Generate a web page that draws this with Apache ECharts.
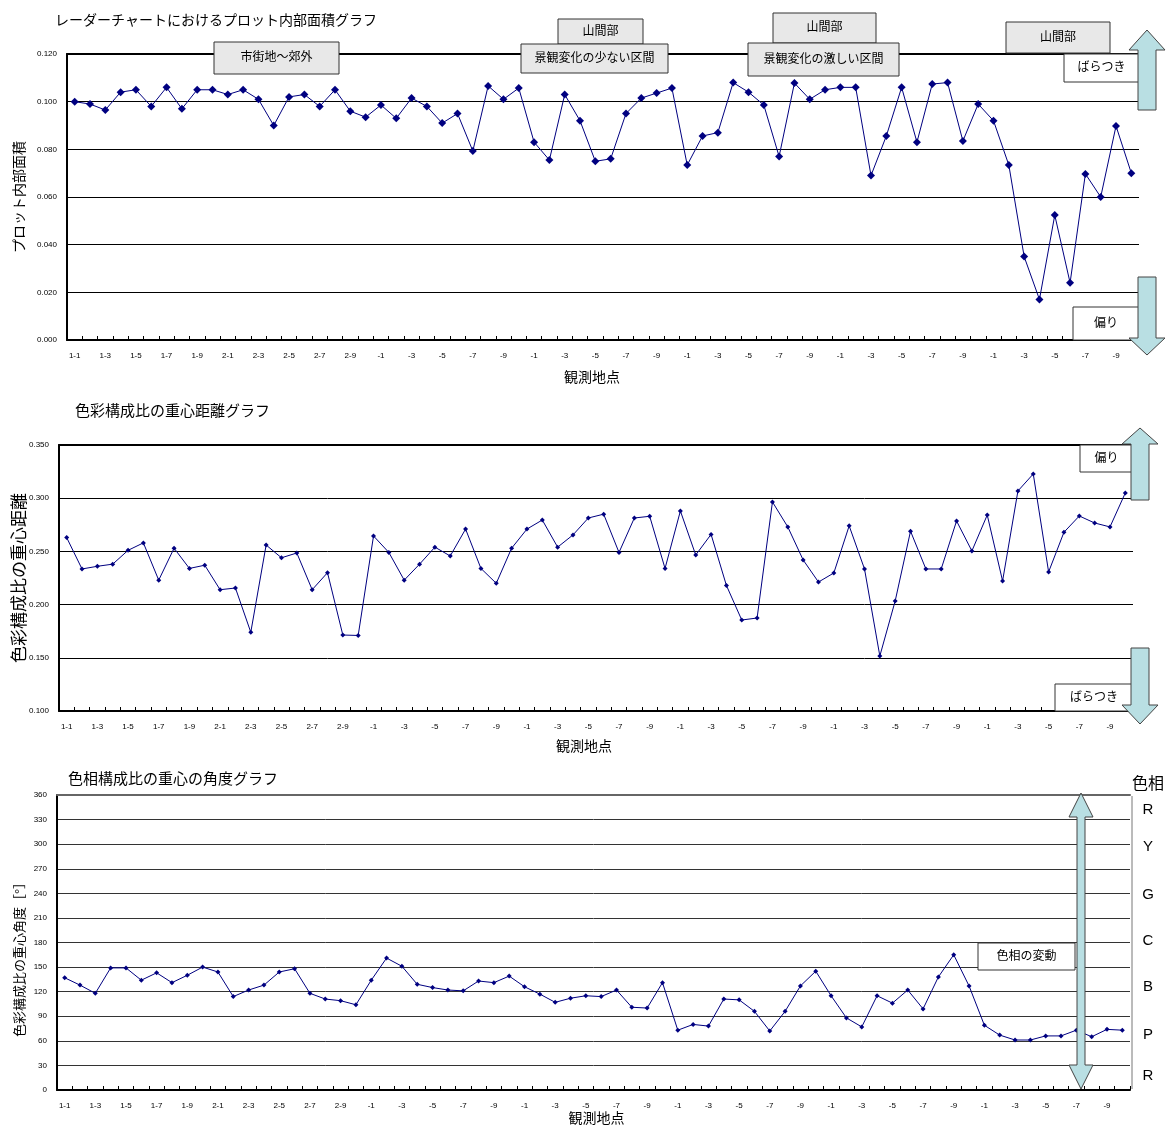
<!DOCTYPE html>
<html>
<head>
<meta charset="utf-8">
<script src="https://cdn.jsdelivr.net/npm/echarts@6/dist/echarts.min.js"></script>
<style>
  html, body { margin: 0; padding: 0; background: #fff; }
  #chart { width: 1167px; height: 1126px; }
</style>
</head>
<body>
<div id="chart"></div>
<script>
// observation points (3-x .. 7-x are shown with the first digit cut off, like the original)
const categories = [
    '1-1','1-2','1-3','1-4','1-5','1-6','1-7','1-8','1-9','1-10',
    '2-1','2-2','2-3','2-4','2-5','2-6','2-7','2-8','2-9','2-10',
    '3-1','3-2','3-3','3-4','3-5','3-6','3-7','3-8','3-9','3-10',
    '4-1','4-2','4-3','4-4','4-5','4-6','4-7','4-8','4-9','4-10',
    '5-1','5-2','5-3','5-4','5-5','5-6','5-7','5-8','5-9','5-10',
    '6-1','6-2','6-3','6-4','6-5','6-6','6-7','6-8','6-9','6-10',
    '7-1','7-2','7-3','7-4','7-5','7-6','7-7','7-8','7-9','7-10'
];

// plot area inside radar chart
const areaValues = [
    0.100, 0.099, 0.0965, 0.104, 0.105, 0.098, 0.106, 0.097, 0.105, 0.105,
    0.103, 0.105, 0.101, 0.090, 0.102, 0.103, 0.098, 0.105, 0.096, 0.0935,
    0.0986, 0.093, 0.1015, 0.098, 0.091, 0.095, 0.0793, 0.1066, 0.101, 0.1057,
    0.083, 0.0755, 0.103, 0.092, 0.075, 0.076, 0.095, 0.1015, 0.1036, 0.1057,
    0.0734, 0.0856, 0.087, 0.108, 0.104, 0.0986, 0.077, 0.1078, 0.101, 0.105,
    0.106, 0.106, 0.069, 0.0856, 0.106, 0.083, 0.1074, 0.108, 0.0835, 0.099,
    0.092, 0.0734, 0.035, 0.017, 0.0524, 0.024, 0.0697, 0.060, 0.0898, 0.070
];

// distance of colour ratio centroid
const distValues = [
    0.263, 0.2335, 0.236, 0.238, 0.251, 0.258, 0.223, 0.253, 0.234, 0.237,
    0.214, 0.2156, 0.174, 0.256, 0.244, 0.2485, 0.214, 0.230, 0.1714, 0.171,
    0.2645, 0.249, 0.223, 0.238, 0.254, 0.2457, 0.271, 0.234, 0.220, 0.253,
    0.271, 0.2795, 0.254, 0.2655, 0.2814, 0.285, 0.249, 0.2814, 0.283, 0.234,
    0.288, 0.2466, 0.266, 0.218, 0.1855, 0.1874, 0.2965, 0.273, 0.242, 0.2212,
    0.2297, 0.274, 0.2335, 0.1517, 0.2034, 0.269, 0.2335, 0.2335, 0.2786, 0.2504,
    0.2842, 0.2222, 0.3068, 0.3228, 0.2307, 0.268, 0.2833, 0.2767, 0.273, 0.305
];

// angle of hue ratio centroid (degrees)
const angleValues = [
    137, 128, 118, 149, 149, 134, 143, 131, 140, 150,
    144, 114, 122, 128, 144, 148, 118, 111, 109, 104,
    134, 161, 151, 129, 125, 122, 121, 133, 131, 139,
    126, 117, 107, 112, 115, 114, 122, 101, 100, 131,
    73, 80, 78, 111, 110, 96, 72, 96, 127, 145,
    115, 88, 77, 115, 106, 122, 99, 138, 165, 127,
    79, 67, 61, 61, 66, 66, 73, 65, 74, 73
];

const hueLabels = ['R', 'Y', 'G', 'C', 'B', 'P', 'R'];

const FONT = '"Liberation Sans", "Noto Sans CJK JP", sans-serif';
const NAVY = '#000080';
const ARROW_FILL = '#b9dfe3';
const BOX_GRAY = '#e8e8e8';

const chart = echarts.init(document.getElementById('chart'), null, { renderer: 'canvas' });

function bottomAxis(gridIndex, nameGap, shift) {
    // shift moves the axis name sideways (negative = left)
    const pad = shift < 0 ? [0, -2 * shift, 0, 0] : [0, 0, 0, 2 * shift];
    return {
        type: 'category',
        gridIndex: gridIndex,
        data: categories,
        boundaryGap: true,
        name: '観測地点',
        nameLocation: 'middle',
        nameGap: nameGap,
        nameMoveOverlap: false,
        nameTextStyle: { fontSize: 14, color: '#000', fontFamily: FONT, padding: pad },
        axisLine: { lineStyle: { color: '#000', width: 2 } },
        axisTick: { show: true, inside: true, interval: 0, length: 4, lineStyle: { color: '#000' } },
        axisLabel: {
            interval: 1,
            fontSize: 8,
            color: '#000',
            margin: 12,
            formatter: v => v.replace(/^[3-7]/, '')
        },
        splitLine: { show: false }
    };
}

// top border of each plot
function topAxis(gridIndex, color) {
    return {
        type: 'category',
        gridIndex: gridIndex,
        position: 'top',
        data: categories,
        axisLine: { lineStyle: { color: color, width: 2 } },
        axisTick: { show: false },
        axisLabel: { show: false },
        splitLine: { show: false }
    };
}

function valueAxis(gridIndex, min, max, interval, name, nameGap, nameSize, namePad, digits, gridColor) {
    return {
        type: 'value',
        gridIndex: gridIndex,
        min: min,
        max: max,
        interval: interval,
        name: name,
        nameLocation: 'middle',
        nameGap: nameGap,
        nameRotate: 90,
        nameMoveOverlap: false,
        nameTextStyle: { fontSize: nameSize, color: '#000', fontFamily: FONT, padding: namePad },
        axisLine: { show: true, lineStyle: { color: '#000', width: 2 } },
        axisTick: { show: false },
        axisLabel: {
            fontSize: 8,
            color: '#000',
            margin: 10,
            formatter: v => v.toFixed(digits)
        },
        splitLine: { show: true, lineStyle: { color: gridColor, width: 1 } }
    };
}

function lineSeries(idx, data, size) {
    return {
        type: 'line',
        xAxisIndex: idx,
        yAxisIndex: idx,
        data: data,
        symbol: 'diamond',
        symbolSize: size,
        lineStyle: { color: NAVY, width: 1 },
        itemStyle: { color: NAVY },
        z: 5
    };
}

function box(x, y, w, h, text, fill, z) {
    z = z || 110;
    return {
        type: 'group',
        children: [
            { type: 'rect', z: z, shape: { x: x, y: y, width: w, height: h },
              style: { fill: fill, stroke: '#333', lineWidth: 1 } },
            { type: 'text', z: z + 1, x: x + w / 2, y: y + h / 2,
              style: { text: text, font: '12px ' + FONT, fill: '#000', align: 'center', verticalAlign: 'middle' } }
        ]
    };
}

function arrow(points) {
    return { type: 'polygon', z: 120, shape: { points: points },
             style: { fill: ARROW_FILL, stroke: '#444', lineWidth: 1 } };
}

const graphics = [
    // chart 1 annotations
    box(214, 42, 125, 32, '市街地～郊外', BOX_GRAY),
    box(558, 19, 85, 25, '山間部', BOX_GRAY, 100),
    box(521, 44, 147, 29, '景観変化の少ない区間', BOX_GRAY),
    box(773, 13, 103, 30, '山間部', BOX_GRAY, 100),
    box(748, 43, 151, 33, '景観変化の激しい区間', BOX_GRAY),
    box(1006, 22, 104, 31, '山間部', BOX_GRAY),
    box(1064, 54, 75, 28, 'ばらつき', '#fff'),
    box(1073, 307, 66, 33, '偏り', '#fff'),
    arrow([[1147, 30], [1165, 50], [1156, 50], [1156, 110], [1138, 110], [1138, 50], [1129, 50]]),
    arrow([[1138, 277], [1156, 277], [1156, 338], [1165, 338], [1147, 355], [1129, 338], [1138, 338]]),
    // chart 2 annotations
    box(1080, 445, 53, 27, '偏り', '#fff'),
    box(1055, 684, 78, 27, 'ばらつき', '#fff'),
    arrow([[1140, 428], [1158, 444], [1149, 444], [1149, 500], [1131, 500], [1131, 444], [1122, 444]]),
    arrow([[1131, 648], [1149, 648], [1149, 705], [1158, 705], [1140, 724], [1122, 705], [1131, 705]]),
    // chart 3 annotations
    box(978, 943, 97, 27, '色相の変動', '#fff'),
    arrow([[1081, 793], [1093, 817], [1085, 817], [1085, 1065], [1093, 1065], [1081, 1089],
           [1069, 1065], [1077, 1065], [1077, 817], [1069, 817]]),
    { type: 'line', z: 3, shape: { x1: 1132, y1: 796, x2: 1132, y2: 1089 },
      style: { stroke: '#777', lineWidth: 1 } },
    { type: 'text', z: 20, x: 1148, y: 785,
      style: { text: '色相', font: '16px ' + FONT, fill: '#000', align: 'center', verticalAlign: 'middle' } }
];

const hueY = [810, 847, 895, 941, 987, 1035, 1076];
hueLabels.forEach((h, i) => {
    graphics.push({ type: 'text', z: 20, x: 1148, y: hueY[i],
        style: { text: h, font: '15px ' + FONT, fill: '#000', align: 'center', verticalAlign: 'middle' } });
});

const option = {
    animation: false,
    backgroundColor: '#fff',
    textStyle: { fontFamily: FONT },
    title: [
        { text: 'レーダーチャートにおけるプロット内部面積グラフ', left: 50, top: 9,
          textStyle: { fontSize: 14, fontWeight: 'normal', color: '#000' } },
        { text: '色彩構成比の重心距離グラフ', left: 70, top: 399,
          textStyle: { fontSize: 15, fontWeight: 'normal', color: '#000' } },
        { text: '色相構成比の重心の角度グラフ', left: 63, top: 767,
          textStyle: { fontSize: 15, fontWeight: 'normal', color: '#000' } }
    ],
    grid: [
        { left: 67, top: 54, width: 1072, height: 286, outerBoundsMode: 'none', containLabel: false },
        { left: 59, top: 445, width: 1074, height: 266, outerBoundsMode: 'none', containLabel: false },
        { left: 57, top: 795, width: 1073, height: 295, outerBoundsMode: 'none', containLabel: false }
    ],
    xAxis: [
        bottomAxis(0, 31, -11),
        bottomAxis(1, 29, -12),
        bottomAxis(2, 22, 3),
        topAxis(0, '#000'),
        topAxis(1, '#000'),
        topAxis(2, '#666')
    ],
    yAxis: [
        valueAxis(0, 0, 0.12, 0.02, 'プロット内部面積', 40, 14, 0, 3, '#000'),
        valueAxis(1, 0.1, 0.35, 0.05, '色彩構成比の重心距離', 30, 17, 0, 3, '#000'),
        valueAxis(2, 0, 360, 30, '色彩構成比の重心角度［°］', 30, 13, [0, 28, 0, 0], 0, '#333')
    ],
    series: [
        lineSeries(0, areaValues, 8),
        lineSeries(1, distValues, 5),
        lineSeries(2, angleValues, 5)
    ],
    graphic: graphics
};

chart.setOption(option);
</script>
</body>
</html>
